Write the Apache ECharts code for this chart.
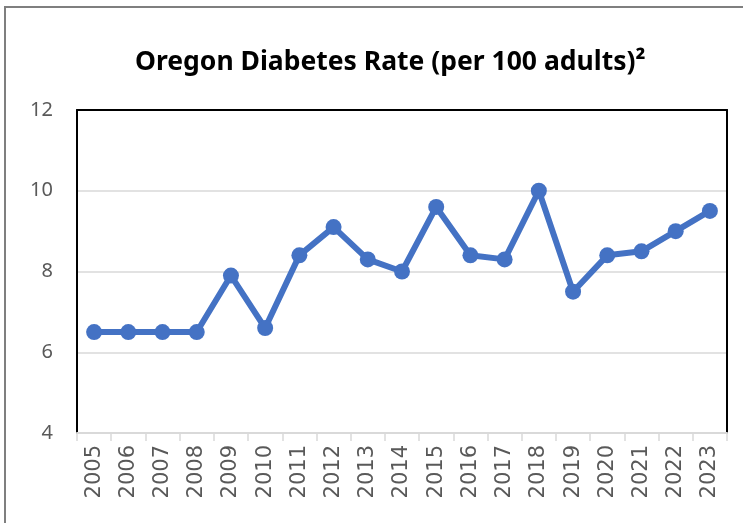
<!DOCTYPE html>
<html>
<head>
<meta charset="utf-8" />
<title>Oregon Diabetes Rate</title>
<style type="text/css">
body,div{margin:0;padding:0;}
#chart{width:743px;height:523px;background:#fff;}
</style>
<script src="https://cdn.jsdelivr.net/npm/echarts@6/dist/echarts.min.js"></script>
</head>
<body>
<div id="chart"></div>
<script type="text/javascript">
var years = ['2005', '2006', '2007', '2008', '2009', '2010', '2011', '2012', '2013', '2014',
             '2015', '2016', '2017', '2018', '2019', '2020', '2021', '2022', '2023'];
var rates = [6.5, 6.5, 6.5, 6.5, 7.9, 6.6, 8.4, 9.1, 8.3, 8.0,
             9.6, 8.4, 8.3, 10.0, 7.5, 8.4, 8.5, 9.0, 9.5];
var yTicks = {min: 4, max: 12, interval: 2};

var myChart = echarts.init(document.getElementById('chart'));
var frameLine = {show: true, lineStyle: {color: '#000', width: 2}};
var option = {
    animation: false,
    title: {
        text: 'Oregon Diabetes Rate (per 100 adults)²',
        left: 130,
        top: 44,
        textStyle: {
            fontFamily: 'Noto Sans',
            fontWeight: 'bold',
            fontSize: 26.5,
            color: '#000'
        }
    },
    grid: {
        left: 77,
        right: 16,
        top: 110,
        bottom: 90,
        show: false
    },
    xAxis: [{
        type: 'category',
        data: years,
        boundaryGap: true,
        axisLine: {lineStyle: {color: '#d9d9d9', width: 2}},
        axisTick: {show: true, length: 8, lineStyle: {color: '#d9d9d9', width: 1.5}},
        axisLabel: {
            rotate: 90,
            margin: 12,
            fontFamily: 'DejaVu Sans',
            fontSize: 21,
            color: '#595959'
        }
    }, {
        // top edge of the plot frame
        type: 'category',
        data: years,
        position: 'top',
        axisLine: frameLine,
        axisTick: {show: false},
        axisLabel: {show: false}
    }],
    yAxis: [{
        type: 'value',
        min: yTicks.min,
        max: yTicks.max,
        interval: yTicks.interval,
        axisLine: frameLine,
        axisTick: {show: false},
        splitLine: {lineStyle: {color: '#d9d9d9', width: 1.5}},
        axisLabel: {
            margin: 24,
            fontFamily: 'Noto Sans',
            fontSize: 20,
            color: '#595959'
        }
    }, {
        // right edge of the plot frame
        type: 'value',
        position: 'right',
        min: yTicks.min,
        max: yTicks.max,
        interval: yTicks.interval,
        axisLine: frameLine,
        axisTick: {show: false},
        splitLine: {show: false},
        axisLabel: {show: false}
    }],
    series: [{
        type: 'line',
        data: rates,
        symbol: 'circle',
        symbolSize: 16,
        lineStyle: {color: '#4472C4', width: 6},
        itemStyle: {color: '#4472C4'}
    }],
    graphic: [{
        type: 'rect',
        silent: true,
        shape: {x: 5, y: 7, width: 800, height: 600},
        style: {fill: 'none', stroke: '#7f7f7f', lineWidth: 2}
    }]
};
myChart.setOption(option);
</script>
</body>
</html>
